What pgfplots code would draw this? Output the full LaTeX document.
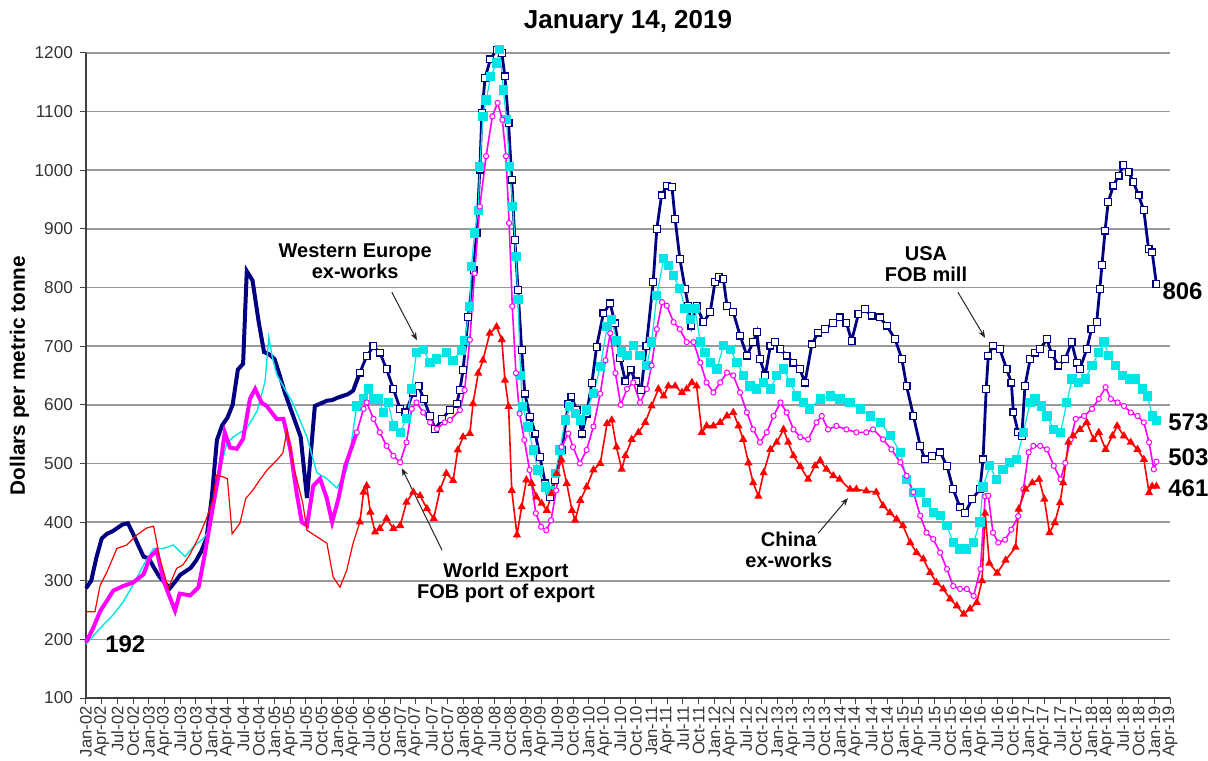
\documentclass[border=0pt]{standalone}
\usepackage{fontspec}
\setmainfont{Liberation Sans}
\usepackage{pgfplots}
\pgfplotsset{compat=1.18}
\usetikzlibrary{arrows.meta}
\definecolor{usa}{RGB}{0,0,128}
\definecolor{weu}{RGB}{0,230,230}
\definecolor{wex}{RGB}{255,0,255}
\definecolor{chn}{RGB}{255,0,0}
\begin{document}
\begin{tikzpicture}
\begin{axis}[
  name=ax,
  width=542pt, height=322.5pt, scale only axis,
  xmin=0, xmax=207, ymin=100, ymax=1200,
  axis x line=bottom, axis y line=left,
  axis line style={-, black!75, line width=0.6pt},
  ytick={100,200,...,1200},
  xtick={0,3,...,207},
  xticklabels={Jan-02,Apr-02,Jul-02,Oct-02,Jan-03,Apr-03,Jul-03,Oct-03,Jan-04,Apr-04,Jul-04,Oct-04,Jan-05,Apr-05,Jul-05,Oct-05,Jan-06,Apr-06,Jul-06,Oct-06,Jan-07,Apr-07,Jul-07,Oct-07,Jan-08,Apr-08,Jul-08,Oct-08,Jan-09,Apr-09,Jul-09,Oct-09,Jan-10,Apr-10,Jul-10,Oct-10,Jan-11,Apr-11,Jul-11,Oct-11,Jan-12,Apr-12,Jul-12,Oct-12,Jan-13,Apr-13,Jul-13,Oct-13,Jan-14,Apr-14,Jul-14,Oct-14,Jan-15,Apr-15,Jul-15,Oct-15,Jan-16,Apr-16,Jul-16,Oct-16,Jan-17,Apr-17,Jul-17,Oct-17,Jan-18,Apr-18,Jul-18,Oct-18,Jan-19,Apr-19},
  tick align=outside,
  major tick length=3pt,
  tick style={black!75, line width=0.5pt},
  ymajorgrids, grid style={black!40, line width=0.8pt},
  /pgf/number format/assume math mode=true,
  /pgf/number format/1000 sep={},
  yticklabel style={font=\fontsize{8.6}{10}\selectfont, text=black!80},
  xticklabel style={font=\fontsize{8.3}{9}\selectfont, rotate=90, anchor=east, text=black!80, inner sep=1pt},
  clip=false,
]
% USA FOB mill
\addplot[usa, line width=2pt, no marks] coordinates {(0,287)(1,300)(2,340)(3,372)(4,380)(5,384)(6,390)(7,396)(8,398)(9,380)(10,360)(11,341)(12,338)(13,322)(14,307)(15,297)(16,287)(17,298)(18,310)(19,316)(20,322)(21,334)(22,350)(23,372)(24,440)(25,540)(26,565)(27,578)(28,600)(29,660)(30,670)(30.7,828)(31.8,812)(33,740)(34,690)(35,686)(36,678)(37,650)(38,620)(39,595)(40,570)(41,545)(42.2,441)(43.7,598)(45,603)(46,607)(47,608)(48,612)(49,615)(50,618)(51,624)(52.3,655)};
\addplot[usa, line width=1.4pt, mark=square*, mark size=1.7pt, mark options={fill=white, draw=usa, line width=0.6pt}] coordinates {(52.3,655)(53.6,683)(54.9,700)(56.1,689)(57.4,661)(58.7,627)(60,593)(61,587)(62.5,621)(63.5,632)(64.5,610)(65.7,581)(66.7,559)(68,576)(69.5,591)(70.8,602)(71.4,625)(72,659)(73,750)(74,830)(74.6,893)(75.2,1001)(75.6,1098)(76.2,1157)(77.2,1189)(78.4,1205)(79.4,1200)(80,1160)(80.7,1080)(81.3,984)(81.9,881)(82.5,796)(83.2,693)(83.8,619)(84.8,580)(85.8,551)(86.7,511)(87.7,466)(88.6,443)(89.6,472)(90.9,523)(92.1,602)(92.7,614)(93.7,591)(94.7,551)(95.6,585)(96.6,637)(97.5,699)(98.8,756)(100.1,773)(101,739)(102,680)(103,640)(104,660)(105,640)(106,625)(107,700)(108.3,809)(109,900)(109.9,957)(110.9,974)(111.9,971)(112.5,917)(113.4,849)(114.4,798)(115,769)(115.6,735)(116.6,769)(117.9,741)(119.2,758)(120.1,809)(120.8,818)(121.7,815)(122.4,769)(123.6,758)(124.9,718)(126.2,684)(127.4,707)(128.1,724)(128.7,678)(129.7,650)(130.7,701)(131.6,707)(132.6,695)(133.8,684)(135.1,672)(136.3,661)(137.3,638)(138.6,703)(139.8,723)(141.1,729)(142.7,740)(143.9,749)(145.2,740)(146.2,709)(147.5,755)(148.7,763)(150,752)(151.6,749)(152.9,735)(154.5,712)(155.8,678)(156.7,632)(158,581)(159.3,530)(160.2,507)(161.5,513)(163.1,519)(164.4,496)(165.6,456)(166.9,425)(167.9,416)(169.2,439)(170.7,456)(171.3,507)(171.9,627)(172.3,684)(173.2,701)(174.5,695)(175.8,661)(176.7,638)(177.1,587)(178,553)(178.7,547)(179.3,632)(180.3,678)(181.2,689)(182.2,695)(183.5,712)(184.4,687)(185.7,667)(187,678)(188.2,707)(189.2,672)(189.8,661)(191.1,695)(192,729)(193,741)(193.6,798)(194,838)(194.6,897)(195.2,946)(196.2,974)(197.2,991)(198.1,1009)(199.1,997)(200,980)(201,957)(202,932)(202.9,866)(203.6,860)(204.4,806)};
% Western Europe ex-works
\addplot[weu, line width=0.7pt, no marks] coordinates {(0,192)(2.7,219)(5.2,242)(7.1,264)(9,293)(11,327)(12.9,355)(14.8,355)(16.7,361)(18,349)(18.9,341)(20.5,358)(22.4,372)(23.7,389)(24.3,420)(25.6,489)(26.9,535)(28.1,545)(30.7,560)(32.7,590)(34.2,640)(34.9,715)(35.6,680)(36.5,650)(39.5,603)(42.2,545)(44.1,484)(46,474)(47.9,458)(49.8,489)(50.4,518)(51.7,598)};
\addplot[weu, line width=0.6pt, mark=square*, mark size=2pt, mark options={fill=weu, draw=weu}] coordinates {(51.7,598)(53,610)(53.9,627)(54.9,610)(55.8,610)(56.8,587)(57.7,604)(58.7,564)(60,553)(61.2,576)(62.2,627)(63.1,689)(64.4,695)(65.7,672)(67,678)(68.9,689)(70.1,676)(71.7,693)(72.3,710)(73.3,767)(73.6,836)(74.2,893)(74.9,932)(75.2,1006)(75.8,1092)(76.4,1120)(77.3,1160)(78.4,1183)(79,1206)(79.7,1137)(80.3,1086)(80.9,1006)(81.5,938)(82.1,853)(82.5,779)(83,650)(83.4,597)(84.4,562)(85.4,523)(86.3,489)(87.7,460)(88.6,454)(89.6,483)(90.5,523)(91.5,574)(92.4,597)(93.4,585)(94.4,574)(95.6,591)(96.9,619)(98.2,665)(99.5,733)(100.4,745)(101.3,710)(102.3,690)(103.3,684)(104.5,701)(105.8,684)(107.1,667)(108,707)(109,786)(110.3,849)(111.2,838)(112.2,820)(113.4,798)(114.4,764)(115.4,746)(116.3,764)(117.3,707)(118.2,689)(119.2,672)(120.5,661)(121.7,701)(123,695)(124.3,672)(125.5,650)(126.8,632)(128.1,627)(129.4,638)(130.7,627)(131.9,650)(133.2,661)(134.5,638)(135.7,615)(137,604)(138.2,593)(140.2,610)(142.1,615)(144,610)(145.9,604)(147.9,593)(149.8,581)(151.7,570)(153.6,547)(155.5,519)(156.7,473)(158,451)(159.3,451)(160.5,434)(161.8,416)(163.1,411)(164.4,394)(165.6,365)(166.9,354)(168.2,354)(169.5,365)(170.7,400)(171.3,460)(172.6,496)(173.8,473)(175.1,490)(176.4,501)(177.7,507)(179,553)(180.3,604)(181.2,610)(182.5,598)(183.5,581)(184.8,558)(186.1,553)(187.3,604)(188.3,644)(189.5,638)(190.8,644)(192.1,667)(193.4,689)(194.4,707)(195.3,684)(196.6,667)(197.9,650)(199.2,644)(200.4,644)(201.7,627)(202.7,615)(203.6,581)(204.4,573)};
% World Export FOB port of export
\addplot[wex, line width=2pt, no marks] coordinates {(0,195)(1.4,220)(2.7,248)(4,266)(5.2,283)(7.1,291)(9,297)(11,311)(12.2,340)(13.5,352)(14.8,300)(16,272)(17,249)(17.9,278)(19.9,275)(21.5,289)(22.7,346)(24,414)(25.6,494)(26.5,553)(27.5,527)(28.8,525)(30,542)(31.3,610)(32.3,627)(33.5,604)(34.5,598)(36.4,576)(37.7,576)(39,525)(40.2,451)(41.2,400)(42.2,394)(43.4,462)(44.7,474)(46,440)(47,400)(48.2,440)(49.5,496)(50.4,519)(51.7,553)};
\addplot[wex, line width=0.8pt, mark=*, mark size=1.3pt, mark options={fill=white, draw=wex, line width=0.5pt}] coordinates {(51.7,553)(53,593)(53.6,604)(54.9,576)(56.1,553)(57.4,530)(58.7,513)(60,502)(61.2,536)(62.2,593)(63.1,604)(64.4,587)(65.7,570)(67,559)(68.5,570)(69.5,574)(71.4,591)(72.3,625)(73.3,711)(74.2,824)(75.2,938)(76.4,1024)(77.6,1092)(78.6,1115)(79.5,1086)(80.2,1024)(80.8,910)(81.4,768)(82.1,654)(82.8,585)(83.7,540)(84.7,489)(85.9,415)(86.9,392)(87.9,386)(88.8,403)(89.8,454)(90.8,528)(92.1,551)(93,528)(94.3,500)(95.6,523)(96.9,563)(98.2,619)(99.2,676)(100.1,722)(101.1,654)(102.1,600)(103.3,627)(104.5,638)(105.8,604)(107.1,627)(108,667)(109,729)(110,775)(110.9,769)(112.2,741)(113.4,729)(114.7,707)(116,707)(117.3,672)(118.5,638)(119.8,621)(121.1,638)(122.4,655)(123.6,650)(124.9,621)(126.2,587)(127.4,558)(128.7,536)(130,553)(131.3,581)(132.6,604)(133.8,587)(135.1,558)(136.4,545)(137.9,541)(139.5,570)(140.5,581)(141.7,558)(143.3,564)(145.2,558)(147.1,553)(149,553)(150.3,558)(152.2,541)(153.8,524)(155.5,502)(156.7,479)(158,451)(159.3,411)(160.5,382)(161.8,371)(163.1,348)(164.4,320)(165.6,291)(166.9,286)(168.2,286)(169.5,274)(170.8,320)(171.7,444)(172.3,445)(173.2,382)(174.2,365)(175.5,370)(176.7,387)(178,410)(179,456)(180,519)(180.9,530)(182.2,530)(183.5,524)(184.8,496)(186.1,473)(187,501)(188,541)(189,576)(190.6,581)(192.1,593)(193.4,610)(194.7,630)(195.7,610)(197,604)(198.2,598)(199.5,587)(200.8,581)(202,570)(203,536)(203.9,490)(204.4,503)};
% China ex-works
\addplot[chn, line width=0.6pt, no marks] coordinates {(0,247)(1.7,247)(2.7,292)(4,315)(5.9,355)(7.8,361)(9.7,378)(11.6,390)(12.9,393)(14.1,338)(15.7,287)(17.3,321)(18.5,327)(19.8,344)(21.4,372)(23,406)(24.3,440)(24.9,480)(26.2,477)(27,474)(27.9,380)(29.4,398)(30.5,440)(31.9,455)(33.2,472)(34.6,489)(36.5,506)(37.6,518)(38.4,557)(39.5,500)(41.4,432)(42.2,386)(44.1,375)(46,364)(47.2,306)(48.5,289)(49.8,318)(51,364)(52.3,400)};
\addplot[chn, line width=0.8pt, mark=triangle*, mark size=1.6pt, mark options={fill=chn, draw=chn}] coordinates {(52.3,400)(53,451)(53.6,462)(54.3,417)(55.2,383)(56.1,389)(57.4,406)(58.7,389)(60,394)(61.2,434)(62.5,451)(63.8,445)(65.1,423)(66.4,406)(67.6,455)(68.8,483)(70.1,471)(71,523)(72,545)(73.3,551)(73.9,602)(74.9,654)(75.8,676)(77.1,722)(78.4,733)(79.4,711)(80,642)(80.7,597)(81.3,454)(82.3,378)(83.2,426)(84.1,472)(85.1,466)(86,443)(87,432)(88,420)(88.9,449)(89.9,483)(90.8,506)(91.8,466)(92.8,420)(93.4,403)(94.4,437)(95.6,460)(96.9,489)(98.2,500)(99.5,568)(100.4,574)(101.3,528)(102.3,490)(103,513)(104.2,541)(105.5,553)(106.8,570)(108,598)(109.3,627)(110.3,615)(111.2,632)(112.5,632)(113.8,621)(114.7,627)(115.7,638)(116.6,632)(117.6,553)(118.5,564)(119.8,564)(121.1,570)(122.4,581)(123.6,587)(124.6,564)(125.5,541)(126.5,501)(127.4,467)(128.4,444)(129.4,484)(130.7,524)(131.9,536)(133.2,558)(134.1,536)(135.1,513)(136.4,495)(137.9,473)(139.2,496)(140.2,505)(141.4,490)(142.7,479)(143.9,473)(145.9,456)(147.1,456)(149,453)(150.9,451)(152.2,428)(153.5,416)(154.8,405)(156,394)(157.4,365)(158.6,348)(159.9,337)(161.2,314)(162.4,297)(163.7,286)(165,269)(166.3,257)(167.6,243)(168.8,252)(170.1,263)(171.1,300)(171.7,415)(172.5,330)(174,313)(175.6,335)(177.5,357)(178.1,422)(179.4,456)(180.7,467)(182,473)(183,439)(184,382)(185,399)(186,433)(186.6,467)(187.6,536)(188.5,547)(189.8,558)(191.1,570)(192.4,541)(193.4,553)(194.7,524)(196,547)(196.9,564)(198.2,547)(199.5,536)(200.8,524)(202,507)(203,450)(203.6,461)(204.4,461)};

% title, axis label, annotations
\node[anchor=base, font=\bfseries\fontsize{13}{15}\selectfont] at ([yshift=12pt]rel axis cs:0.5,1) {January 14, 2019};
\node[rotate=90, anchor=base, font=\bfseries\fontsize{10.4}{12}\selectfont] at ([xshift=-30.5pt]rel axis cs:0,0.5) {Dollars per metric tonne};
\begin{scope}[every node/.style={font=\bfseries\fontsize{10}{10.5}\selectfont, align=center, inner sep=0pt}]
\node at (axis cs:51.4,845) {Western Europe\\ex-works};
\node at (axis cs:80.2,296) {World Export\\FOB port of export};
\node at (axis cs:160.4,840) {USA\\FOB mill};
\node at (axis cs:134.2,352) {China\\ex-works};
\end{scope}
\begin{scope}[-{Stealth[length=4pt,width=3pt]}, line width=0.5pt, black!85]
\draw (axis cs:58.4,792) -- (axis cs:63.2,710);
\draw (axis cs:68.0,352) -- (axis cs:60.3,492);
\draw (axis cs:166.5,792) -- (axis cs:171.7,714);
\draw (axis cs:139.8,381) -- (axis cs:145.5,441);
\end{scope}
\begin{scope}[every node/.style={font=\bfseries\fontsize{12}{14}\selectfont, anchor=base west, inner sep=0pt}]
\node at (axis cs:205.5,779) {806};
\node at (axis cs:206.6,557) {573};
\node at (axis cs:206.6,497) {503};
\node at (axis cs:206.6,443) {461};
\node at (axis cs:3.6,177) {192};
\end{scope}
\end{axis}
\pgfresetboundingbox
\path[use as bounding box] (-43pt,-31pt) rectangle (561pt,349pt);
\end{tikzpicture}
\end{document}
